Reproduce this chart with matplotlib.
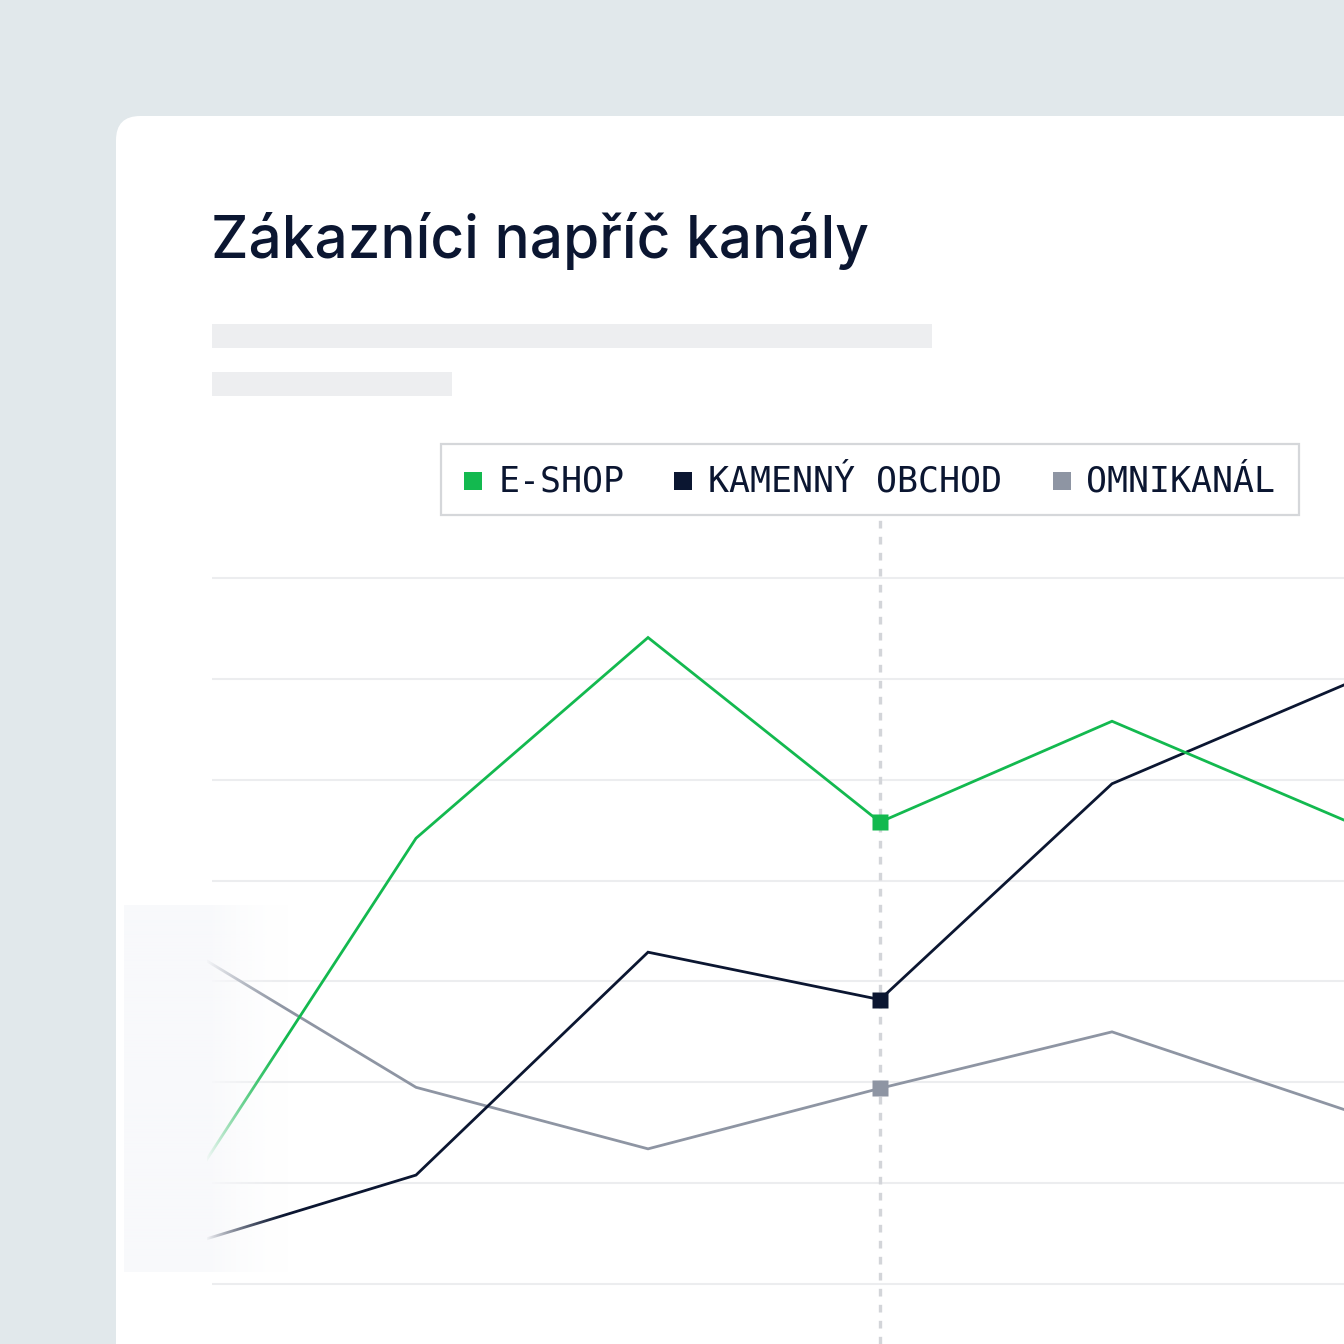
import numpy as np
import matplotlib
matplotlib.use("Agg")
import matplotlib.pyplot as plt
from matplotlib.patches import FancyBboxPatch, Rectangle

# --- data ---
periods = [0, 1, 2, 3, 4, 5]
series_names = ["E-SHOP", "KAMENNÝ OBCHOD", "OMNIKANÁL"]
eshop = [8.9, 44.2, 64.1, 45.8, 55.8, 46.0]
kamenny = [3.8, 10.8, 32.9, 28.2, 49.6, 59.4]
omni = [33.4, 19.5, 13.4, 19.4, 25.0, 17.3]
grid_values = [0, 10, 20, 30, 40, 50, 60, 70]
highlight = 3

title = "Zákazníci napříč kanály"

GREEN = "#13B94F"
NAVY = "#0B1631"
GREY = "#8E95A3"
BG = "#E1E8EB"
TEXT = "#0B1631"
PLACEHOLDER = "#EDEEF0"

W = H = 1344


def fx(px):
    return px / W


def fy(py):
    return 1 - py / H


fig = plt.figure(figsize=(13.44, 13.44), dpi=100)
fig.patch.set_facecolor(BG)

# white card, running off the right and bottom edges
card = FancyBboxPatch((fx(116), -0.1), 1.2, fy(116) + 0.1,
                      boxstyle="round,pad=0,rounding_size=0.018",
                      transform=fig.transFigure, facecolor="white",
                      edgecolor="none", zorder=-2)
fig.patches.append(card)

fig.text(fx(211), fy(258), title, fontsize=42.2, color=TEXT,
         family=["Inter", "DejaVu Sans"], weight="medium",
         ha="left", va="baseline")

# placeholder text bars
for x0, x1, y0, y1 in [(212, 932, 324, 348), (212, 452, 372, 396)]:
    fig.patches.append(Rectangle((fx(x0), fy(y1)), fx(x1 - x0), (y1 - y0) / H,
                                 transform=fig.transFigure,
                                 facecolor=PLACEHOLDER, edgecolor="none",
                                 zorder=-1))

# main chart area
ax = fig.add_axes([fx(207), 0, fx(1344 - 207), (1344 - 516) / H])
ax.set_facecolor("none")
ax.set_xlim(0.099, 5.0)
ax.set_ylim(-5.95, 76.15)
for s in ax.spines.values():
    s.set_visible(False)
ax.set_xticks([])
ax.set_yticks([])

ax.hlines(grid_values, 0.121, 5.0, color="#ECEDEF", lw=1.5, zorder=1)
ax.axvline(periods[highlight], color="#D3D5D9", lw=2.4,
           dashes=(2.3, 2.5), zorder=2)

for vals, col in [(omni, GREY), (kamenny, NAVY), (eshop, GREEN)]:
    ax.plot(periods, vals, color=col, lw=2.0, zorder=3,
            solid_joinstyle="miter")
    ax.plot(periods[highlight], vals[highlight], marker="s", ms=11.5,
            color=col, mec="none", zorder=4)

# fading overlay at the left edge of the lines
ov = fig.add_axes([fx(124), fy(1272), fx(290 - 124), (1272 - 905) / H])
ov.set_axis_off()
ncol = 166
alpha = np.ones(ncol)
ramp = np.arange(ncol) >= (207 - 124)
t = (np.arange(ncol)[ramp] - (207 - 124)) / (290 - 207)
alpha[ramp] = 0.97 * (1 - t) ** 1.6
img = np.zeros((2, ncol, 4))
img[..., 0] = 0xF8 / 255
img[..., 1] = 0xF9 / 255
img[..., 2] = 0xFB / 255
img[..., 3] = alpha
ov.imshow(img, aspect="auto", extent=(0, 1, 0, 1), interpolation="bilinear")
ov.set_zorder(5)

# legend box
fig.patches.append(Rectangle((fx(441), fy(515)), fx(1299 - 441), (515 - 444) / H,
                             transform=fig.transFigure, facecolor="white",
                             edgecolor="#D5D7DA", lw=1.6, zorder=6))
legend_pos = [(464, 499), (674, 708), (1053, 1086)]
for name, col, (mx, tx) in zip(series_names, [GREEN, NAVY, GREY], legend_pos):
    fig.patches.append(Rectangle((fx(mx), fy(490)), fx(18), 18 / H,
                                 transform=fig.transFigure, facecolor=col,
                                 edgecolor="none", zorder=7))
    fig.text(fx(tx), fy(492), name, fontsize=25.1, color=TEXT,
             family=["DejaVu Sans Mono"],
             ha="left", va="baseline", zorder=8)

fig.savefig("out.png", dpi=100, facecolor=BG)
